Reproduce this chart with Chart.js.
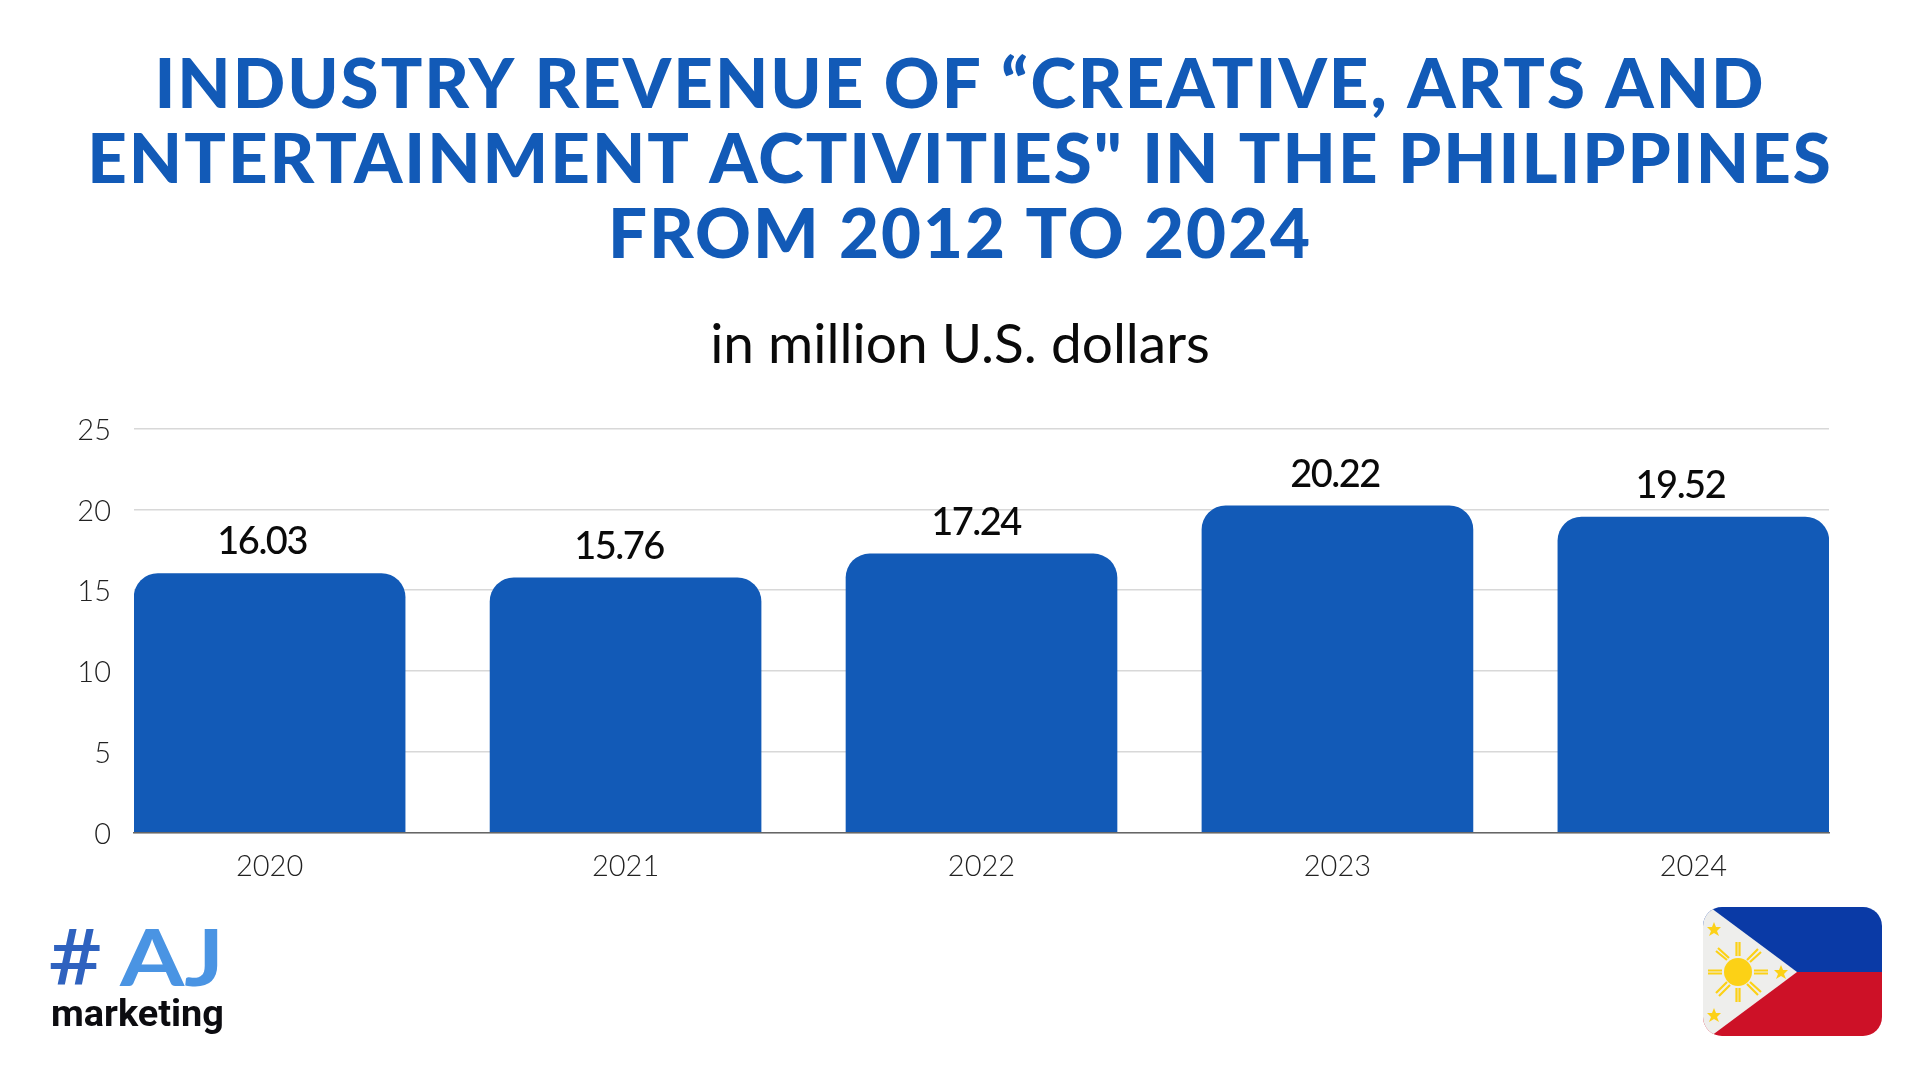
<!DOCTYPE html>
<html>
<head>
<meta charset="utf-8">
<script src="https://cdn.jsdelivr.net/npm/chart.js@4"></script>
<style>
html,body{margin:0;padding:0;background:#fff;width:1920px;height:1080px;overflow:hidden}
#c{position:absolute;left:0;top:0}
svg{position:absolute;left:0;top:0}
</style>
</head>
<body>
<canvas id="c" width="1920" height="1080" style="width:1920px;height:1080px"></canvas>
<svg width="1920" height="1080" viewBox="0 0 1920 1080">
  <defs><clipPath id="fc"><rect x="1703" y="907" width="179" height="129" rx="19"/></clipPath></defs>
  <g clip-path="url(#fc)">
    <rect x="1703" y="907" width="179" height="65" fill="#0a3aa6"/>
    <rect x="1703" y="972" width="179" height="64" fill="#cd1127"/>
    <polygon points="1703,902 1797,972 1703,1042" fill="#eeeeec"/>
  </g>
  <g fill="#fcd116" stroke="#fcd116">
    <circle cx="1738" cy="972" r="14" stroke="none"/>
    <g stroke-width="2.2">
      <path d="M1708 970.5H1722M1708 973.5H1722M1754 970.5H1768M1754 973.5H1768"/>
      <path d="M1736.5 942V956M1739.5 942V956M1736.5 988V1002M1739.5 988V1002"/>
      <path d="M1716 951L1727 960M1718 948L1729 958M1747 984L1758 995M1750 982L1761 992"/>
      <path d="M1758 949L1747 960M1761 952L1750 962M1716 993L1727 982M1719 996L1730 985"/>
    </g>
    <g stroke="none">
      <polygon points="1714,922 1716,927 1721,927 1717,931 1719,936 1714,933 1709,936 1711,931 1707,927 1712,927"/>
      <polygon points="1781,965 1783,970 1788,970 1784,974 1786,979 1781,976 1776,979 1778,974 1774,970 1779,970"/>
      <polygon points="1714,1008 1716,1013 1721,1013 1717,1017 1719,1022 1714,1019 1709,1022 1711,1017 1707,1013 1712,1013"/>
    </g>
  </g>
  <text x="47" y="985" font-family="Roboto" font-weight="500" font-size="77" fill="#2f62bf" textLength="54" lengthAdjust="spacingAndGlyphs">#</text>
  <text x="120" y="986" font-family="Lato" font-weight="700" font-size="79" fill="#4a94e3" textLength="104" lengthAdjust="spacingAndGlyphs">AJ</text>
  <text x="51" y="1026" font-family="Roboto" font-weight="700" font-size="37" fill="#0c0c10" textLength="173" lengthAdjust="spacingAndGlyphs">marketing</text>
</svg>
<script>
const titleLines = ['INDUSTRY REVENUE OF “CREATIVE, ARTS AND', 'ENTERTAINMENT ACTIVITIES" IN THE PHILIPPINES', 'FROM 2012 TO 2024'];
const subtitleText = 'in million U.S. dollars';
const years = [2020, 2021, 2022, 2023, 2024];
const revenue = [16.03, 15.76, 17.24, 20.22, 19.52];
const valueLabels = ['16.03', '15.76', '17.24', '20.22', '19.52'];
const labelNudgeX = [-7.5, -6.5, -5.5, -2.5, -13];
const yMax = 25;
const yStep = 5;
const BLUE = '#125ab7';
const RIGHT_GAP = 91;

const valueLabelPlugin = {
  id: 'valueLabels',
  afterDatasetsDraw(chart) {
    const ctx = chart.ctx, bars = chart.getDatasetMeta(0).data;
    ctx.save();
    ctx.font = '500 38px Lato';
    ctx.letterSpacing = '-1.5px';
    ctx.fillStyle = '#0a0a0a';
    ctx.textAlign = 'center';
    ctx.textBaseline = 'alphabetic';
    bars.forEach((b, i) => ctx.fillText(valueLabels[i], b.x + labelNudgeX[i], b.y - 19));
    ctx.restore();
  }
};
const titleSpacingPlugin = {
  id: 'titleSpacing',
  afterLayout(chart) {
    const b = chart.titleBlock;
    if (b && !b.__patched) {
      const d = b.draw;
      b.draw = function () {
        chart.ctx.letterSpacing = '2px';
        d.apply(this, arguments);
        chart.ctx.letterSpacing = '0px';
      };
      b.__patched = true;
    }
    // titles are centred on the full page, not on the padded plot width
    chart.boxes.forEach(box => {
      if (box.options && box.options.text !== undefined && box.right < 1920) box.right = 1920;
    });
  }
};

new Chart(document.getElementById('c'), {
  type: 'bar',
  data: {
    datasets: [{
      data: years.map((y, i) => ({ x: y, y: revenue[i] })),
      backgroundColor: BLUE,
      borderWidth: 0,
      borderSkipped: 'bottom',
      borderRadius: { topLeft: 24, topRight: 24, bottomLeft: 0, bottomRight: 0 },
      barThickness: 271
    }]
  },
  plugins: [valueLabelPlugin, titleSpacingPlugin],
  options: {
    responsive: false,
    animation: false,
    devicePixelRatio: 1,
    layout: { padding: { left: 0, right: RIGHT_GAP, top: 0, bottom: 0 } },
    plugins: {
      legend: { display: false },
      tooltip: { enabled: false },
      title: {
        display: true,
        text: titleLines,
        color: BLUE,
        font: { family: 'Lato', weight: 900, size: 69, lineHeight: 1.087 },
        padding: { top: 48.5, bottom: 41.5 }
      },
      subtitle: {
        display: true,
        text: subtitleText,
        color: '#0a0a0a',
        font: { family: 'Lato', weight: 400, size: 55, lineHeight: 1.1 },
        padding: { top: 0, bottom: 53 }
      }
    },
    scales: {
      x: {
        type: 'linear',
        bounds: 'data',
        offset: false,
        min: 2019.619,
        max: 2024.381,
        afterBuildTicks(s) { s.ticks = years.map(v => ({ value: v })); },
        afterFit(s) { s.height = 247.5; },
        grid: { display: false, offset: false },
        border: { display: true, color: '#666', width: 1.5 },
        ticks: {
          autoSkip: false, maxRotation: 0, padding: 9,
          color: '#222', font: { family: 'Lato', weight: 300, size: 29 },
          callback: v => String(v)
        }
      },
      y: {
        min: 0,
        max: yMax,
        afterFit(s) { s.width = 134; },
        grid: { color: '#d8d8d8', lineWidth: 1.5, drawTicks: false },
        border: { display: false },
        ticks: {
          stepSize: yStep, padding: 23, labelOffset: 2,
          color: '#222', font: { family: 'Lato', weight: 300, size: 29 }
        }
      }
    }
  }
});
</script>
</body>
</html>
